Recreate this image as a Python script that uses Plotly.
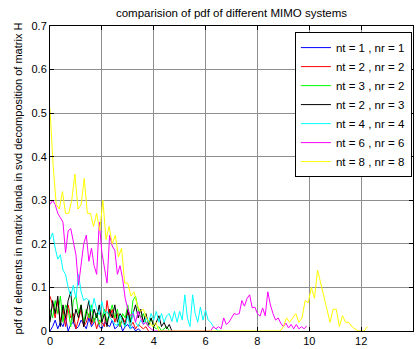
import numpy as np
import plotly.graph_objects as go

# Estimated pdf of the singular values (landa) for each antenna configuration.
# Each series is a histogram sampled on evenly spaced bin centres.
labels = ["nt = 1 , nr = 1", "nt = 2 , nr = 2", "nt = 3 , nr = 2", "nt = 2 , nr = 3",
          "nt = 4 , nr = 4", "nt = 6 , nr = 6", "nt = 8 , nr = 8"]
colors = ["#0000ff", "#ff0000", "#00ff00", "#000000", "#00ffff", "#ff00ff", "#ffff00"]

# bin range (first centre, last centre) of each series
ranges = [(0.0, 3.5), (0.0, 3.8), (0.0, 4.6), (0.0, 4.7), (0.0, 6.6), (0.0, 9.9), (0.0, 12.24)]

pdf_1x1 = [0.0, 0.01, 0.025, 0.005, 0.02, 0.01, 0.03, 0.0, 0.015, 0.02, 0.005, 0.01,
           0.025, 0.015, 0.005, 0.03, 0.01, 0.02, 0.04, 0.01, 0.005, 0.02, 0.015, 0.01,
           0.025, 0.005, 0.01, 0.02, 0.0, 0.01, 0.015, 0.005, 0.01, 0.0, 0.005, 0.0]

pdf_2x2 = [0.08, 0.06, 0.03, 0.07, 0.02, 0.05, 0.01, 0.06, 0.03, 0.04, 0.005, 0.03,
           0.05, 0.01, 0.02, 0.04, 0.015, 0.03, 0.005, 0.025, 0.02, 0.01, 0.07, 0.03,
           0.05, 0.02, 0.04, 0.01, 0.03, 0.02, 0.045, 0.01, 0.02, 0.005, 0.015, 0.01,
           0.005, 0.01, 0.0]

pdf_3x2 = [0.05, 0.03, 0.07, 0.04, 0.08, 0.02, 0.06, 0.05, 0.01, 0.07, 0.08, 0.04,
           0.06, 0.02, 0.05, 0.03, 0.06, 0.02, 0.04, 0.015, 0.03, 0.05, 0.02, 0.04,
           0.06, 0.03, 0.05, 0.01, 0.04, 0.03, 0.06, 0.02, 0.07, 0.08, 0.05, 0.03,
           0.04, 0.02, 0.01, 0.03, 0.01, 0.005, 0.01, 0.0, 0.005, 0.01, 0.0]

pdf_2x3 = [0.02, 0.07, 0.04, 0.08, 0.01, 0.06, 0.03, 0.07, 0.09, 0.02, 0.05, 0.03,
           0.06, 0.01, 0.04, 0.07, 0.02, 0.05, 0.03, 0.06, 0.02, 0.04, 0.01, 0.05,
           0.03, 0.06, 0.02, 0.04, 0.03, 0.01, 0.05, 0.02, 0.04, 0.06, 0.03, 0.05,
           0.02, 0.04, 0.015, 0.03, 0.01, 0.02, 0.035, 0.01, 0.02, 0.005, 0.015, 0.0]

pdf_4x4 = [0.21, 0.225, 0.19, 0.165, 0.175, 0.14, 0.13, 0.10, 0.08, 0.105, 0.075, 0.13,
           0.09, 0.07, 0.075, 0.07, 0.045, 0.075, 0.05, 0.037, 0.068, 0.04, 0.045, 0.03,
           0.025, 0.015, 0.013, 0.035, 0.02, 0.01, 0.035, 0.005, 0.045, 0.02, 0.01, 0.025,
           0.015, 0.03, 0.02, 0.04, 0.025, 0.045, 0.02, 0.04, 0.02, 0.035, 0.04, 0.022,
           0.045, 0.02, 0.045, 0.025, 0.083, 0.03, 0.01, 0.083, 0.04, 0.02, 0.055, 0.025,
           0.048, 0.025, 0.02, 0.01, 0.005, 0.0, 0.0]

pdf_6x6 = [0.29, 0.30, 0.29, 0.27, 0.26, 0.25, 0.18, 0.23, 0.235, 0.20, 0.175, 0.105,
           0.16, 0.20, 0.22, 0.16, 0.19, 0.15, 0.13, 0.25, 0.18, 0.14, 0.11, 0.22,
           0.195, 0.185, 0.13, 0.15, 0.12, 0.075, 0.05, 0.035, 0.04, 0.02, 0.045, 0.03,
           0.015, 0.02, 0.01, 0.005, 0.0,
           0.0, 0.0, 0.0, 0.0, 0.0, 0.0, 0.0, 0.0, 0.0, 0.0, 0.0,
           0.0, 0.0, 0.0, 0.0, 0.0, 0.0, 0.0, 0.0, 0.0, 0.0, 0.0,
           0.01, 0.005, 0.01, 0.005, 0.03, 0.015, 0.02, 0.03, 0.04, 0.038, 0.04, 0.07,
           0.057, 0.075, 0.083, 0.053, 0.055, 0.04, 0.034, 0.053, 0.035, 0.09, 0.06, 0.04,
           0.025, 0.03, 0.018, 0.01, 0.018, 0.007, 0.015, 0.005, 0.015, 0.005, 0.01, 0.005,
           0.012]

pdf_8x8 = [0.51, 0.38, 0.29, 0.28, 0.32, 0.27, 0.27, 0.30, 0.36, 0.28, 0.29, 0.35,
           0.27, 0.27, 0.24, 0.27, 0.23, 0.30, 0.21, 0.24, 0.20, 0.22, 0.17, 0.19,
           0.11, 0.11, 0.08, 0.09, 0.06, 0.045, 0.05, 0.03, 0.02, 0.01, 0.02, 0.0,
           0.0, 0.0, 0.0, 0.0, 0.0, 0.0, 0.0, 0.0, 0.0, 0.0, 0.0, 0.0, 0.0,
           0.0, 0.0, 0.0, 0.0, 0.0, 0.0, 0.0, 0.0, 0.0, 0.0, 0.0, 0.0, 0.0,
           0.0, 0.0, 0.0, 0.0, 0.0, 0.0, 0.0, 0.0, 0.0, 0.0, 0.0, 0.0, 0.0,
           0.01, 0.03, 0.02, 0.03, 0.04, 0.02, 0.03, 0.07, 0.065, 0.10, 0.075, 0.14,
           0.11, 0.08, 0.05, 0.02, 0.05, 0.05, 0.01, 0.035, 0.02, 0.02, 0.01, 0.005,
           0.0, 0.0, 0.0, 0.01]

series = [pdf_1x1, pdf_2x2, pdf_3x2, pdf_2x3, pdf_4x4, pdf_6x6, pdf_8x8]

x_ticks = [0, 2, 4, 6, 8, 10, 12, 14]
y_ticks = [0, 0.1, 0.2, 0.3, 0.4, 0.5, 0.6, 0.7]
y_tick_text = ["0", "0.1", "0.2", "0.3", "0.4", "0.5", "0.6", "0.7"]

FONT = "Liberation Sans, Arial, sans-serif"

fig = go.Figure()
for vals, (x0, x1), name, col in zip(series, ranges, labels, colors):
    centres = np.linspace(x0, x1, len(vals))
    fig.add_trace(go.Scatter(x=centres, y=vals, mode="lines", name=name,
                             line=dict(color=col, width=1)))

axis_common = dict(showline=True, linecolor="black", linewidth=1, mirror="allticks",
                   ticks="inside", ticklen=4, tickcolor="black",
                   showgrid=True, gridcolor="#8e8e8e", gridwidth=1,
                   zeroline=False, tickfont=dict(family=FONT, size=11, color="black"))

fig.update_layout(
    width=416, height=349,
    margin=dict(l=50, r=2, t=26, b=16),
    paper_bgcolor="white", plot_bgcolor="white",
    title=dict(text="comparision of pdf of different MIMO systems",
               font=dict(family=FONT, size=11.5, color="black"),
               x=0.5, xref="paper", xanchor="center", y=1 - 13 / 349, yanchor="middle"),
    xaxis=dict(range=[0, 14], tickvals=x_ticks, ticktext=[str(t) for t in x_ticks],
               **axis_common),
    yaxis=dict(range=[0, 0.7], tickvals=y_ticks, ticktext=y_tick_text,
               title=dict(text="pdf of elements in matrix landa in svd decomposition of matrix H",
                          font=dict(family=FONT, size=11, color="black"), standoff=6),
               **axis_common),
    legend=dict(x=0.997, xanchor="right", y=0.98, yanchor="top",
                bgcolor="white", bordercolor="black", borderwidth=1,
                font=dict(family=FONT, size=11.5, color="black"),
                tracegroupgap=0, itemwidth=30),
    showlegend=True,
)

fig.write_html("out.html")
